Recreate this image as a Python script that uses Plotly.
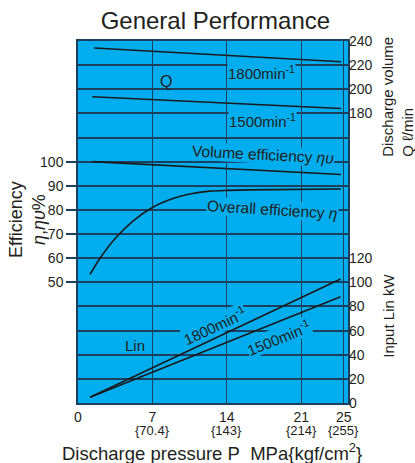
import plotly.graph_objects as go

# ---------------- data ----------------
q_pressure = [1.53, 24.74]
q_1800 = [234.2, 222.8]
q_pressure_1500 = [1.35, 24.74]
q_1500 = [193.8, 184.1]

vol_pressure = [1.35, 7, 14, 21, 24.74]
vol_eff = [100, 98.7, 97.2, 95.6, 94.7]

ov_pressure = [1.13, 2.07, 3.64, 5.2, 7.0, 9.0, 10.5, 12.4, 14, 16, 24.74]
ov_eff = [53.3, 60, 68.9, 75.5, 81, 84.8, 86.6, 87.8, 88.1, 88.3, 88.7]

lin_pressure = [1.13, 24.7]
lin_1800 = [4.7, 102.8]
lin_1500 = [4.7, 88.0]

x_ticks = [0, 7, 14, 21, 25]
x_tick_main = ["0", "7", "14", "21", "25"]
x_tick_sub = ["", "{70.4}", "{143}", "{214}", "{255}"]
eff_ticks = [50, 60, 70, 80, 90, 100]
q_ticks = [180, 200, 220, 240]
kw_ticks = [0, 20, 40, 60, 80, 100, 120]

# ---------------- style ----------------
BG = "#00aeef"
GRID = "#1b3f5c"
INK = "#1a1a1a"
TXT = "#231f20"
FONT = "Liberation Sans, Arial, sans-serif"

fig = go.Figure()
line = dict(color=INK, width=1.6)
fig.add_trace(go.Scatter(x=q_pressure, y=q_1800, mode="lines", line=line, yaxis="y2", showlegend=False))
fig.add_trace(go.Scatter(x=q_pressure_1500, y=q_1500, mode="lines", line=line, yaxis="y2", showlegend=False))
fig.add_trace(go.Scatter(x=vol_pressure, y=vol_eff, mode="lines", line=line, yaxis="y", showlegend=False))
fig.add_trace(go.Scatter(x=ov_pressure, y=ov_eff, mode="lines", line=dict(color=INK, width=1.6, shape="spline", smoothing=0.6), yaxis="y", showlegend=False))
fig.add_trace(go.Scatter(x=lin_pressure, y=lin_1800, mode="lines", line=line, yaxis="y3", showlegend=False))
fig.add_trace(go.Scatter(x=lin_pressure, y=lin_1500, mode="lines", line=line, yaxis="y3", showlegend=False))

fig.update_layout(
    width=415, height=463,
    margin=dict(l=78, r=67, t=41, b=60, autoexpand=False),
    paper_bgcolor="white",
    plot_bgcolor=BG,
    font=dict(family=FONT, size=14, color=TXT),
    title=dict(text="General Performance", x=0.519, xanchor="center", y=0.956, yanchor="middle",
               font=dict(size=24, color=TXT, family=FONT)),
    xaxis=dict(range=[0, 25.4], tickmode="array", tickvals=x_ticks, ticktext=x_tick_main, automargin=False,
               showgrid=True, gridcolor=GRID, gridwidth=1.3, zeroline=False,
               showline=True, linecolor=GRID, linewidth=1.5, mirror=True,
               ticks="", tickfont=dict(size=14, color=TXT)),
    yaxis=dict(range=[0, 150], tickmode="array", tickvals=eff_ticks, automargin=False,
               showgrid=True, gridcolor=GRID, gridwidth=1.5, zeroline=False,
               showline=True, linecolor=GRID, linewidth=1.5, mirror=True,
               ticks="outside", ticklen=10, tickcolor=GRID, tickwidth=1.5,
               tickfont=dict(size=14, color=TXT),
               minor=dict(tick0=0, dtick=10, showgrid=True, gridcolor=GRID, gridwidth=1.5, ticks="")),
    yaxis2=dict(range=[-60, 240], tickmode="array", tickvals=q_ticks, overlaying="y", side="right",
                anchor="x", showgrid=False, zeroline=False, ticks="", automargin=False,
                tickfont=dict(size=14, color=TXT)),
    yaxis3=dict(range=[0, 300], tickmode="array", tickvals=kw_ticks, overlaying="y", side="right",
                anchor="x", showgrid=False, zeroline=False, ticks="", automargin=False,
                tickfont=dict(size=14, color=TXT)),
)

def px(xp, yp):
    return (xp - 78) / 270, (404 - yp) / 363

def label(text, xp, yp, size=15, angle=0, bg=True, **kw):
    x, y = px(xp, yp)
    fig.add_annotation(text=text, x=x, y=y, xref="paper", yref="paper", showarrow=False,
                       xanchor="center", yanchor="middle", textangle=angle,
                       font=dict(size=size, color=TXT, family=FONT),
                       bgcolor=BG if bg else "rgba(0,0,0,0)", borderpad=0, **kw)

# secondary (kgf/cm2) tick labels under the MPa ticks
for xv, sub in zip(x_ticks, x_tick_sub):
    if sub:
        fig.add_annotation(text=sub, x=xv, xref="x", y=px(0, 431.5)[1], yref="paper",
                           showarrow=False, xanchor="center", yanchor="middle",
                           font=dict(size=13, color=TXT, family=FONT))

label("1800min<sup>-1</sup>", 261, 72.7)
label("Q", 165.7, 81.7, size=16, bg=False)
label("1500min<sup>-1</sup>", 262, 120.7)
label("Volume efficiency <i>ηυ</i>", 263, 155, size=15.5, angle=3)
label("Overall efficiency <i>η</i>", 272, 210, size=15.5, angle=3.5)
label("Lin", 135, 346.7, bg=False)
label("1800min<sup>-1</sup>", 214, 326, angle=-25)
label("1500min<sup>-1</sup>", 278, 338, angle=-22)

# axis titles
label("Efficiency<br><i>η</i>,<i>ηυ</i>%", 27.5, 220, size=18, angle=-90, bg=False)
label("Discharge volume<br>Q ℓ/min", 397.5, 97.5, size=15, angle=-90, bg=False, align="left")
label("Input Lin kW", 389, 316.5, size=15, angle=-90, bg=False)
label("Discharge pressure P\u00a0 MPa{kgf/cm<sup>2</sup>}", 212, 453, size=18.5, bg=False)

fig.write_html("out.html", config={"displayModeBar": False},
               post_script="document.body.style.margin='0px';document.body.style.overflow='hidden';")
